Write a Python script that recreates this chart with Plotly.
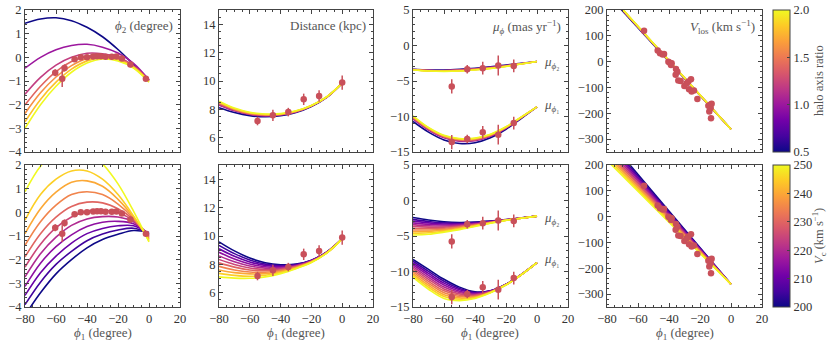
import plotly.graph_objects as go
from plotly.subplots import make_subplots
from plotly.colors import sample_colorscale

# rejilla de phi1 donde se leen las curvas de modelo
PHI1_GRID = [-80, -70, -60, -50, -40, -30, -20, -10, 0]

# fila superior: cociente de ejes del halo
Q_VALUES = [0.5, 1.0, 1.2, 1.4, 1.6, 1.8, 2.0]
# fila inferior: velocidad circular
VC_VALUES = [200, 205, 210, 215, 220, 225, 230, 235, 240, 245, 250]

phi2_q = [
    [1.44, 1.62, 1.67, 1.55, 1.27, 0.87, 0.33, -0.3, -0.97],
    [-0.46, 0.0, 0.32, 0.5, 0.55, 0.43, 0.18, -0.25, -0.95],
    [-1.56, -0.85, -0.33, 0.0, 0.17, 0.15, 0.0, -0.35, -0.97],
    [-2.01, -1.22, -0.6, -0.18, 0.05, 0.08, -0.05, -0.38, -0.98],
    [-2.37, -1.5, -0.83, -0.35, -0.05, 0.03, -0.08, -0.4, -1.0],
    [-2.72, -1.78, -1.05, -0.5, -0.15, -0.03, -0.12, -0.43, -1.02],
    [-3.0, -2.0, -1.22, -0.63, -0.24, -0.07, -0.15, -0.45, -1.05],
]
dist_q = [
    [8.12, 7.78, 7.56, 7.48, 7.55, 7.78, 8.2, 8.85, 9.85],
    [8.3, 7.9, 7.64, 7.54, 7.6, 7.82, 8.23, 8.86, 9.85],
    [8.36, 7.94, 7.67, 7.57, 7.62, 7.84, 8.24, 8.87, 9.85],
    [8.42, 7.98, 7.7, 7.6, 7.64, 7.85, 8.25, 8.87, 9.85],
    [8.47, 8.02, 7.73, 7.62, 7.66, 7.87, 8.26, 8.88, 9.85],
    [8.52, 8.05, 7.76, 7.65, 7.68, 7.88, 8.27, 8.88, 9.85],
    [8.57, 8.09, 7.79, 7.68, 7.7, 7.9, 8.28, 8.89, 9.85],
]
mu2_q = [
    [-3.35, -3.45, -3.45, -3.35, -3.2, -3.0, -2.75, -2.5, -2.25],
    [-3.38, -3.5, -3.52, -3.43, -3.28, -3.08, -2.82, -2.54, -2.25],
    [-3.4, -3.52, -3.55, -3.47, -3.32, -3.12, -2.85, -2.56, -2.25],
    [-3.41, -3.54, -3.58, -3.51, -3.36, -3.16, -2.88, -2.57, -2.25],
    [-3.42, -3.56, -3.61, -3.54, -3.39, -3.19, -2.9, -2.58, -2.25],
    [-3.44, -3.58, -3.63, -3.57, -3.42, -3.22, -2.93, -2.59, -2.25],
    [-3.45, -3.6, -3.65, -3.6, -3.45, -3.25, -2.95, -2.6, -2.25],
]
mu1_q = [
    [-10.7, -12.2, -13.3, -13.8, -13.7, -13.0, -11.8, -10.25, -8.65],
    [-10.35, -11.9, -13.0, -13.48, -13.4, -12.78, -11.65, -10.15, -8.65],
    [-10.25, -11.82, -12.92, -13.4, -13.33, -12.72, -11.6, -10.13, -8.65],
    [-10.15, -11.74, -12.84, -13.32, -13.26, -12.66, -11.56, -10.11, -8.65],
    [-10.07, -11.67, -12.77, -13.24, -13.18, -12.6, -11.52, -10.09, -8.65],
    [-9.98, -11.61, -12.71, -13.17, -13.11, -12.55, -11.48, -10.07, -8.65],
    [-9.9, -11.55, -12.65, -13.1, -13.05, -12.5, -11.45, -10.05, -8.65],
]
vlos_q = [
    [262, 196, 131, 65, 0, -66, -131, -196, -262],
    [266, 200, 134, 68, 3, -63, -128, -195, -262],
    [267, 201, 135, 69, 4, -62, -128, -194, -262],
    [268, 202, 136, 70, 4, -61, -127, -194, -262],
    [268, 202, 137, 71, 5, -61, -127, -193, -262],
    [269, 203, 137, 71, 5, -60, -126, -193, -262],
    [270, 204, 138, 72, 6, -60, -126, -193, -262],
]

phi2_vc = [
    [-4.35, -3.4, -2.6, -2.0, -1.5, -1.15, -0.93, -0.77, -0.85],
    [-3.9, -2.95, -2.2, -1.65, -1.2, -0.92, -0.75, -0.67, -0.87],
    [-3.51, -2.55, -1.85, -1.3, -0.9, -0.68, -0.57, -0.57, -0.9],
    [-3.13, -2.15, -1.45, -0.95, -0.6, -0.42, -0.38, -0.48, -0.93],
    [-2.73, -1.75, -1.05, -0.55, -0.28, -0.18, -0.2, -0.4, -0.97],
    [-2.31, -1.35, -0.65, -0.2, 0.05, 0.1, -0.02, -0.35, -1.0],
    [-1.88, -0.9, -0.2, 0.25, 0.43, 0.4, 0.15, -0.3, -1.05],
    [-1.39, -0.4, 0.3, 0.75, 0.87, 0.75, 0.35, -0.25, -1.1],
    [-0.9, 0.15, 0.85, 1.27, 1.33, 1.1, 0.55, -0.2, -1.15],
    [-0.33, 0.75, 1.4, 1.75, 1.75, 1.4, 0.75, -0.15, -1.2],
    [0.87, 1.95, 2.55, 2.75, 2.6, 2.05, 1.2, 0.05, -1.25],
]
dist_vc = [
    [9.59, 8.95, 8.45, 8.12, 7.98, 8.02, 8.3, 8.88, 9.8],
    [9.34, 8.76, 8.31, 8.02, 7.92, 7.99, 8.28, 8.87, 9.8],
    [9.1, 8.57, 8.17, 7.93, 7.86, 7.96, 8.26, 8.86, 9.8],
    [8.85, 8.38, 8.03, 7.83, 7.8, 7.92, 8.25, 8.85, 9.8],
    [8.6, 8.19, 7.89, 7.74, 7.74, 7.89, 8.23, 8.84, 9.8],
    [8.35, 8.0, 7.75, 7.64, 7.68, 7.86, 8.21, 8.84, 9.8],
    [8.11, 7.81, 7.61, 7.55, 7.61, 7.83, 8.2, 8.83, 9.8],
    [7.86, 7.61, 7.47, 7.45, 7.55, 7.79, 8.18, 8.82, 9.8],
    [7.61, 7.42, 7.33, 7.35, 7.48, 7.76, 8.17, 8.81, 9.8],
    [7.37, 7.23, 7.17, 7.24, 7.42, 7.73, 8.15, 8.81, 9.8],
    [7.12, 7.03, 7.02, 7.12, 7.35, 7.7, 8.13, 8.8, 9.8],
]
mu2_vc = [
    [-2.4, -2.75, -3.0, -3.1, -3.05, -2.9, -2.7, -2.45, -2.2],
    [-2.65, -2.95, -3.15, -3.2, -3.12, -2.93, -2.71, -2.46, -2.2],
    [-2.9, -3.15, -3.3, -3.3, -3.18, -2.96, -2.72, -2.46, -2.2],
    [-3.15, -3.35, -3.45, -3.4, -3.24, -3.0, -2.73, -2.47, -2.2],
    [-3.4, -3.55, -3.6, -3.5, -3.3, -3.03, -2.74, -2.47, -2.2],
    [-3.65, -3.75, -3.75, -3.6, -3.36, -3.06, -2.75, -2.48, -2.2],
    [-3.9, -3.95, -3.9, -3.7, -3.42, -3.09, -2.76, -2.48, -2.2],
    [-4.15, -4.15, -4.05, -3.8, -3.48, -3.12, -2.77, -2.49, -2.2],
    [-4.4, -4.35, -4.2, -3.9, -3.54, -3.15, -2.78, -2.49, -2.2],
    [-4.62, -4.55, -4.33, -4.0, -3.6, -3.18, -2.79, -2.5, -2.2],
    [-4.85, -4.75, -4.45, -4.1, -3.65, -3.2, -2.8, -2.5, -2.2],
]
mu1_vc = [
    [-8.3, -9.7, -11.1, -12.2, -12.85, -12.7, -11.8, -10.4, -8.75],
    [-8.55, -9.98, -11.37, -12.39, -12.95, -12.73, -11.81, -10.4, -8.75],
    [-8.8, -10.26, -11.64, -12.58, -13.04, -12.76, -11.82, -10.41, -8.75],
    [-9.05, -10.54, -11.91, -12.77, -13.14, -12.79, -11.83, -10.41, -8.75],
    [-9.3, -10.82, -12.18, -12.96, -13.23, -12.82, -11.84, -10.42, -8.75],
    [-9.55, -11.1, -12.45, -13.15, -13.33, -12.85, -11.85, -10.42, -8.75],
    [-9.8, -11.38, -12.72, -13.34, -13.42, -12.88, -11.86, -10.43, -8.75],
    [-10.05, -11.66, -12.99, -13.53, -13.52, -12.91, -11.87, -10.43, -8.75],
    [-10.3, -11.94, -13.26, -13.72, -13.61, -12.94, -11.88, -10.44, -8.75],
    [-10.55, -12.22, -13.53, -13.91, -13.71, -12.97, -11.89, -10.44, -8.75],
    [-10.8, -12.5, -13.8, -14.1, -13.8, -13.0, -11.9, -10.45, -8.75],
]
vlos_vc = [
    [305, 234, 163, 92, 22, -49, -120, -191, -262],
    [296, 226, 157, 87, 18, -52, -122, -192, -262],
    [287, 219, 150, 81, 13, -55, -124, -193, -262],
    [279, 211, 144, 76, 9, -59, -126, -194, -262],
    [270, 204, 137, 71, 4, -62, -129, -195, -262],
    [261, 196, 131, 65, 0, -65, -131, -196, -262],
    [253, 189, 124, 60, -4, -69, -133, -198, -262],
    [244, 181, 118, 55, -9, -72, -135, -199, -262],
    [236, 174, 111, 49, -13, -75, -137, -200, -262],
    [227, 166, 105, 44, -18, -79, -140, -201, -262],
    [218, 158, 98, 38, -22, -82, -142, -202, -262],
]

# observaciones
obs_phi2_x = [-60.5, -56, -54.5, -48, -44, -40, -36, -33.5, -31, -28, -24, -21, -17.5, -12, -2]
obs_phi2_y = [-0.65, -0.9, -0.45, -0.08, 0.0, 0.0, 0.03, 0.05, 0.05, 0.02, 0.02, 0.03, -0.05, -0.3, -0.9]
obs_phi2_err = [0.15, 0.35, 0.15, 0.1, 0.1, 0.08, 0.08, 0.08, 0.08, 0.08, 0.1, 0.1, 0.1, 0.12, 0.1]

obs_dist_x = [-55, -45, -35, -25, -15, 0]
obs_dist_y = [7.18, 7.58, 7.81, 8.71, 8.94, 9.89]
obs_dist_err = [0.3, 0.4, 0.3, 0.4, 0.4, 0.5]

obs_mu_x = [-55, -45, -35, -25, -15]
obs_mu2_y = [-5.77, -3.33, -3.19, -2.82, -2.87]
obs_mu1_y = [-13.6, -13.17, -12.23, -12.56, -10.92]
obs_mu_err = [1.0, 0.6, 0.9, 1.4, 0.9]

obs_vlos_x = [-56.1, -47.3, -45.8, -44.1, -43.2, -40.4, -39.4, -38.3, -38.7, -35.5, -34.6, -35.7, -34.0, -32.5,
              -30.1, -28.6, -27.5, -25.8, -27.1, -25.4, -23.9, -21.7, -14.6, -13.5, -13.1, -14.0, -12.9, -12.5]
obs_vlos_y = [120, 43, 32, 28, 30, 0, -4, -6, -13, -29, -39, -51, -73, -75,
              -94, -84, -77, -68, -107, -116, -112, -145, -171, -167, -180, -193, -219, -163]

DATA_COLOR = "#c9505a"
FRAME = "#444444"
FONT = "Liberation Serif"
TICK_SIZE = 12.5
LABEL_SIZE = 13

fig = make_subplots(rows=2, cols=4)


def add_family(curves, params, pmin, pmax, row, col, shape="spline"):
    for curve, p in zip(curves, params):
        color = sample_colorscale("Plasma", [(p - pmin) / (pmax - pmin)])[0]
        fig.add_trace(go.Scatter(x=PHI1_GRID, y=curve, mode="lines", line=dict(color=color, width=1.6, shape=shape),
                                 showlegend=False, hoverinfo="skip"), row=row, col=col)


def add_obs(x, y, err, row, col):
    fig.add_trace(go.Scatter(x=x, y=y, mode="markers", showlegend=False,
                             marker=dict(color=DATA_COLOR, size=6.5),
                             error_y=dict(type="data", array=err, visible=err is not None,
                                          color=DATA_COLOR, thickness=1.5, width=0)),
                  row=row, col=col)


for row, params, pmin, pmax, sets in [
    (1, Q_VALUES, 0.5, 2.0, (phi2_q, dist_q, mu2_q, mu1_q, vlos_q)),
    (2, VC_VALUES, 200, 250, (phi2_vc, dist_vc, mu2_vc, mu1_vc, vlos_vc)),
]:
    p2, d, m2, m1, v = sets
    add_family(p2, params, pmin, pmax, row, 1)
    add_obs(obs_phi2_x, obs_phi2_y, obs_phi2_err, row, 1)
    add_family(d, params, pmin, pmax, row, 2)
    add_obs(obs_dist_x, obs_dist_y, obs_dist_err, row, 2)
    add_family(m2, params, pmin, pmax, row, 3)
    add_family(m1, params, pmin, pmax, row, 3)
    add_obs(obs_mu_x, obs_mu2_y, obs_mu_err, row, 3)
    add_obs(obs_mu_x, obs_mu1_y, obs_mu_err, row, 3)
    add_family(v, params, pmin, pmax, row, 4, shape="linear")
    add_obs(obs_vlos_x, obs_vlos_y, None, row, 4)

W, H = 831, 345

# barras de color (trazas fantasma fuera del rango); el titulo va como anotacion
cbar_common = dict(thickness=17, thicknessmode="pixels", len=142, lenmode="pixels", x=773 / W,
                   xanchor="left", xpad=0, ypad=0, yanchor="middle", outlinewidth=1, outlinecolor=FRAME,
                   ticks="inside", ticklen=3, tickcolor=FRAME, ticklabeloverflow="allow",
                   tickfont=dict(family=FONT, size=TICK_SIZE, color="#333"))
fig.add_trace(go.Scatter(x=[-500, -500], y=[0, 0], mode="markers", showlegend=False, hoverinfo="skip",
                         marker=dict(color=[0.5, 2.0], cmin=0.5, cmax=2.0, colorscale="Plasma", showscale=True,
                                     colorbar=dict(y=1 - 81 / H, tickvals=[0.5, 1.0, 1.5, 2.0],
                                                   ticktext=["0.5", "1.0", "1.5", "2.0"], **cbar_common))),
              row=1, col=4)
fig.add_trace(go.Scatter(x=[-500, -500], y=[0, 0], mode="markers", showlegend=False, hoverinfo="skip",
                         marker=dict(color=[200, 250], cmin=200, cmax=250, colorscale="Plasma", showscale=True,
                                     colorbar=dict(y=1 - 236 / H, tickvals=[200, 210, 220, 230, 240, 250],
                                                   **cbar_common))), row=2, col=4)
for txt, yc in [("halo axis ratio", 81), ("<i>V</i><sub>c</sub> (km s<sup>−1</sup>)", 236)]:
    fig.add_annotation(text=txt, xref="paper", yref="paper", x=819 / W, y=1 - yc / H,
                       textangle=-90, xanchor="center", yanchor="middle", showarrow=False,
                       font=dict(family=FONT, size=12.5, color="#555"))

# posiciones de los paneles en pixeles
col_px = [(25, 180), (219, 373), (413, 568), (607, 762)]
row_px = [(10, 152), (165, 307)]
y_ranges = [(-4, 2, 1, 0.2), (5, 15, 2, 0.5), (-15, 5, 5, 1), (-350, 200, 100, 20)]
y_tick0 = [-4, 6, -15, -300]

for r in range(2):
    for c in range(4):
        idx = r * 4 + c + 1
        xa = "xaxis" if idx == 1 else f"xaxis{idx}"
        ya = "yaxis" if idx == 1 else f"yaxis{idx}"
        lo, hi, dt, mdt = y_ranges[c]
        common = dict(showline=True, mirror="ticks", linecolor=FRAME, linewidth=1, ticks="inside", ticklen=4,
                      tickcolor=FRAME, showgrid=False, zeroline=False, ticklabeloverflow="allow",
                      tickfont=dict(family=FONT, size=TICK_SIZE, color="#333"))
        fig.layout[xa].update(domain=[col_px[c][0] / W, col_px[c][1] / W], range=[-80, 20],
                              dtick=20, tick0=0, minor=dict(dtick=5, ticks="inside", ticklen=2, tickcolor=FRAME),
                              showticklabels=(r == 1), **common)
        fig.layout[ya].update(domain=[1 - row_px[r][1] / H, 1 - row_px[r][0] / H],
                              range=[lo, hi], dtick=dt, tick0=y_tick0[c],
                              minor=dict(dtick=mdt, ticks="inside", ticklen=2, tickcolor=FRAME), **common)
        if r == 1:
            fig.add_annotation(text="<i>ϕ</i><sub>1</sub> (degree)", xref="paper", yref="paper",
                               x=(col_px[c][0] + col_px[c][1]) / 2 / W, y=1 - 333 / H,
                               xanchor="center", yanchor="middle", showarrow=False,
                               font=dict(family=FONT, size=LABEL_SIZE, color="#555"))

titles = ["<i>ϕ</i><sub>2</sub> (degree)", "Distance (kpc)", "<i>μ</i><sub><i>ϕ</i></sub> (mas yr<sup>−1</sup>)",
          "<i>V</i><sub>los</sub> (km s<sup>−1</sup>)"]
for c, t in enumerate(titles):
    ref = "" if c == 0 else str(c + 1)
    fig.add_annotation(text=t, xref=f"x{ref} domain", yref=f"y{ref} domain", x=0.97, y=0.955,
                       xanchor="right", yanchor="top", showarrow=False,
                       font=dict(family=FONT, size=LABEL_SIZE, color="#555"))

for r, (y2, y1) in enumerate([(-2.4, -8.4), (-2.6, -8.3)]):
    ref = "3" if r == 0 else "7"
    fig.add_annotation(text="<i>μ</i><sub><i>ϕ</i>₂</sub>", x=3, y=y2, xref=f"x{ref}", yref=f"y{ref}",
                       xanchor="left", yanchor="middle", showarrow=False,
                       font=dict(family=FONT, size=LABEL_SIZE, color="#555"))
    fig.add_annotation(text="<i>μ</i><sub><i>ϕ</i>₁</sub>", x=3, y=y1, xref=f"x{ref}", yref=f"y{ref}",
                       xanchor="left", yanchor="middle", showarrow=False,
                       font=dict(family=FONT, size=LABEL_SIZE, color="#555"))

fig.update_layout(width=W, height=H, margin=dict(l=0, r=0, t=0, b=0, autoexpand=False), plot_bgcolor="white",
                  paper_bgcolor="white", font=dict(family=FONT, size=TICK_SIZE, color="#333"), showlegend=False)

# quitar el margen por defecto del body para que la figura llene la ventana
fig.write_html("out.html", config={"displayModeBar": False},
               post_script="document.body.style.margin='0px';")
